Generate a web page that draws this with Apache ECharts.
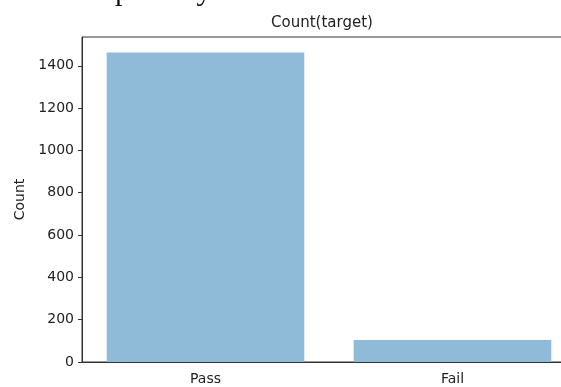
<!DOCTYPE html>
<html>
<head>
<meta charset="utf-8">
<script src="https://cdn.jsdelivr.net/npm/echarts@6/dist/echarts.min.js"></script>
<style>html,body{margin:0;padding:0;background:#fff;}#c{width:561px;height:387px;}</style>
</head>
<body>
<div id="c"></div>
<script>
var categories = ['Pass', 'Fail'];
var counts = [1463, 104];
var yTicks = [0, 200, 400, 600, 800, 1000, 1200, 1400];
var titleText = 'Count(target)';
var yLabel = 'Count';
var cutText = 'se data separately.';

var chart = echarts.init(document.getElementById('c'), null, {renderer: 'canvas'});
var font = 'DejaVu Sans';
chart.setOption({
  animation: false,
  backgroundColor: '#ffffff',
  title: {
    text: titleText, left: 317, top: 11, textAlign: 'center',
    textStyle: {fontFamily: font, fontSize: 15, fontWeight: 'normal', color: '#222'}
  },
  graphic: [{
    type: 'text', left: 0, top: -23,
    style: {text: cutText, font: '30px "Liberation Serif"', fill: '#111'}
  }],
  grid: {left: 82, top: 37, bottom: 25, width: 494, outerBoundsMode: 'none', containLabel: false,
         show: true, borderColor: '#333', borderWidth: 1, backgroundColor: 'transparent'},
  xAxis: {
    type: 'category', data: categories,
    axisLine: {lineStyle: {color: '#333', width: 1}},
    axisTick: {alignWithLabel: true, length: 4, lineStyle: {color: '#333'}},
    axisLabel: {fontFamily: font, fontSize: 14, color: '#222', margin: 10}
  },
  yAxis: {
    type: 'value', min: 0, max: 1536.15, interval: 200,
    name: yLabel, nameLocation: 'middle', nameGap: 50,
    nameTextStyle: {fontFamily: font, fontSize: 14, color: '#222'},
    axisLine: {show: true, lineStyle: {color: '#333', width: 1}},
    axisTick: {show: true, length: 4, lineStyle: {color: '#333'}, customValues: yTicks},
    axisLabel: {fontFamily: font, fontSize: 14, color: '#222', margin: 8, customValues: yTicks,
                formatter: function (v) { return String(v); }},
    splitLine: {show: false}
  },
  series: [{
    type: 'bar', data: counts, barWidth: '80%',
    itemStyle: {color: '#8fbbd9'}
  }]
});
</script>
</body>
</html>
